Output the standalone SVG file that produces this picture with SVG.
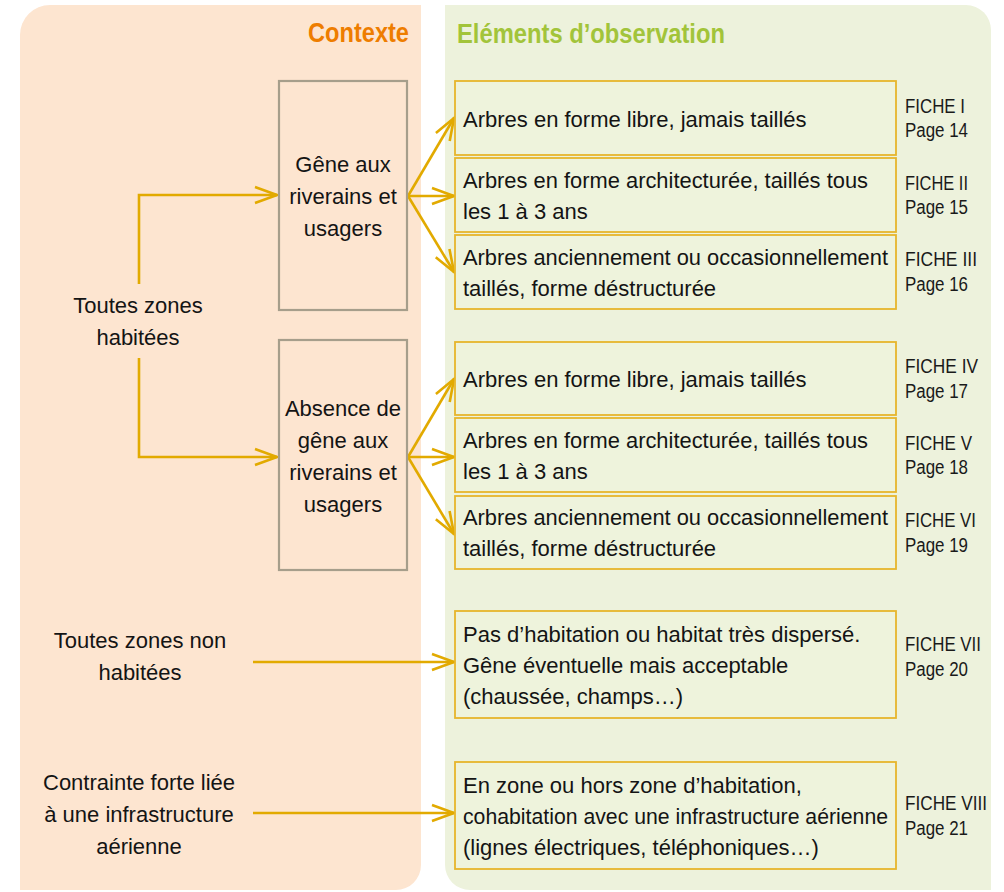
<svg xmlns="http://www.w3.org/2000/svg" width="1004" height="892" viewBox="0 0 1004 892">
<style>
.t{font-family:"Liberation Sans",Arial,sans-serif;font-size:22px;fill:#141414}
.c{text-anchor:middle}
.f{font-family:"Liberation Sans Narrow","Liberation Sans",Arial,sans-serif;font-size:20px;fill:#1a1a1a}
.h{font-family:"Liberation Sans Narrow","Liberation Sans",Arial,sans-serif;font-size:28px;font-weight:bold}
.gb{fill:#FDE5D0;stroke:#A69E8B;stroke-width:2.2}
.ob{fill:#EEF3DC;stroke:#E6B52C;stroke-width:1.8}
.cn{fill:none;stroke:#E2AA00;stroke-width:2.6;marker-end:url(#ah)}
</style>
<defs>
<marker id="ah" markerUnits="userSpaceOnUse" markerWidth="30" markerHeight="22" viewBox="-26 -11 28 22" refX="0" refY="0" orient="auto" overflow="visible">
<path d="M-22,-8 L0,0 L-22,8" fill="none" stroke="#E2AA00" stroke-width="2.6"/>
</marker>
</defs>
<g id="panels">
<path d="M20,35 A30,30 0 0 1 50,5 L421,5 L421,865 A25,25 0 0 1 396,890 L20,890 Z" fill="#FDE5D0"/>
<path d="M445,5 L966,5 A25,25 0 0 1 991,30 L991,890 L470,890 A25,25 0 0 1 445,865 Z" fill="#EDF2DC"/>
<text class="h" x="409" y="42" text-anchor="end" fill="#EE7D00" textLength="101" lengthAdjust="spacingAndGlyphs">Contexte</text>
<text class="h" x="457" y="43" fill="#A2C43A" textLength="268" lengthAdjust="spacingAndGlyphs">Eléments d’observation</text>
</g>
<g id="connectors">
<path class="cn" d="M139,284 V195 H277"/>
<path class="cn" d="M139,358 V457 H277"/>
<path class="cn" d="M408,196 L454,118"/>
<path class="cn" d="M408,196 L454,196"/>
<path class="cn" d="M408,196 L454,272"/>
<path class="cn" d="M408,457 L454,379"/>
<path class="cn" d="M408,457 L454,457"/>
<path class="cn" d="M408,457 L454,534"/>
<path class="cn" d="M253,662 L454,662"/>
<path class="cn" d="M253,813 L454,813"/>
</g>
<g id="n-habitees">
<text class="t c" x="138" y="313">Toutes zones</text>
<text class="t c" x="138" y="345">habitées</text>
</g>
<g id="n-gene">
<rect class="gb" x="279" y="81" width="128" height="229"/>
<text class="t c" x="343" y="172">Gêne aux</text>
<text class="t c" x="343" y="204">riverains et</text>
<text class="t c" x="343" y="236">usagers</text>
</g>
<g id="n-absence">
<rect class="gb" x="279" y="340" width="128" height="230"/>
<text class="t c" x="343" y="416">Absence de</text>
<text class="t c" x="343" y="448">gêne aux</text>
<text class="t c" x="343" y="480">riverains et</text>
<text class="t c" x="343" y="512">usagers</text>
</g>
<g id="n-nonhabitees">
<text class="t c" x="140" y="648">Toutes zones non</text>
<text class="t c" x="140" y="680">habitées</text>
</g>
<g id="n-contrainte">
<text class="t c" x="139" y="790">Contrainte forte liée</text>
<text class="t c" x="139" y="822">à une infrastructure</text>
<text class="t c" x="139" y="854">aérienne</text>
</g>
<g id="fiche1">
<rect class="ob" x="455" y="81" width="441" height="74"/>
<text class="t" x="463" y="127">Arbres en forme libre, jamais taillés</text>
<text class="f" x="905" y="113" textLength="60" lengthAdjust="spacingAndGlyphs">FICHE I</text>
<text class="f" x="905" y="137" textLength="63" lengthAdjust="spacingAndGlyphs">Page 14</text>
</g>
<g id="fiche2">
<rect class="ob" x="455" y="158" width="441" height="74"/>
<text class="t" x="463" y="188" textLength="405" lengthAdjust="spacingAndGlyphs">Arbres en forme architecturée, taillés tous</text>
<text class="t" x="463" y="219">les 1 à 3 ans</text>
<text class="f" x="905" y="190" textLength="63" lengthAdjust="spacingAndGlyphs">FICHE II</text>
<text class="f" x="905" y="214" textLength="63" lengthAdjust="spacingAndGlyphs">Page 15</text>
</g>
<g id="fiche3">
<rect class="ob" x="455" y="235" width="441" height="74"/>
<text class="t" x="463" y="265" textLength="425" lengthAdjust="spacingAndGlyphs">Arbres anciennement ou occasionnellement</text>
<text class="t" x="463" y="296">taillés, forme déstructurée</text>
<text class="f" x="905" y="266" textLength="72" lengthAdjust="spacingAndGlyphs">FICHE III</text>
<text class="f" x="905" y="291" textLength="63" lengthAdjust="spacingAndGlyphs">Page 16</text>
</g>
<g id="fiche4">
<rect class="ob" x="455" y="342" width="441" height="73"/>
<text class="t" x="463" y="387">Arbres en forme libre, jamais taillés</text>
<text class="f" x="905" y="373" textLength="73" lengthAdjust="spacingAndGlyphs">FICHE IV</text>
<text class="f" x="905" y="398" textLength="63" lengthAdjust="spacingAndGlyphs">Page 17</text>
</g>
<g id="fiche5">
<rect class="ob" x="455" y="418" width="441" height="74"/>
<text class="t" x="463" y="448" textLength="405" lengthAdjust="spacingAndGlyphs">Arbres en forme architecturée, taillés tous</text>
<text class="t" x="463" y="479">les 1 à 3 ans</text>
<text class="f" x="905" y="450" textLength="67" lengthAdjust="spacingAndGlyphs">FICHE V</text>
<text class="f" x="905" y="474" textLength="63" lengthAdjust="spacingAndGlyphs">Page 18</text>
</g>
<g id="fiche6">
<rect class="ob" x="455" y="496" width="441" height="73"/>
<text class="t" x="463" y="525" textLength="425" lengthAdjust="spacingAndGlyphs">Arbres anciennement ou occasionnellement</text>
<text class="t" x="463" y="556">taillés, forme déstructurée</text>
<text class="f" x="905" y="527" textLength="71" lengthAdjust="spacingAndGlyphs">FICHE VI</text>
<text class="f" x="905" y="552" textLength="63" lengthAdjust="spacingAndGlyphs">Page 19</text>
</g>
<g id="fiche7">
<rect class="ob" x="455" y="611" width="441" height="107"/>
<text class="t" x="463" y="642">Pas d’habitation ou habitat très dispersé.</text>
<text class="t" x="463" y="673">Gêne éventuelle mais acceptable</text>
<text class="t" x="463" y="704">(chaussée, champs…)</text>
<text class="f" x="905" y="651" textLength="76" lengthAdjust="spacingAndGlyphs">FICHE VII</text>
<text class="f" x="905" y="676" textLength="63" lengthAdjust="spacingAndGlyphs">Page 20</text>
</g>
<g id="fiche8">
<rect class="ob" x="455" y="762" width="441" height="107"/>
<text class="t" x="463" y="793">En zone ou hors zone d’habitation,</text>
<text class="t" x="463" y="824" textLength="425" lengthAdjust="spacingAndGlyphs">cohabitation avec une infrastructure aérienne</text>
<text class="t" x="463" y="855">(lignes électriques, téléphoniques…)</text>
<text class="f" x="905" y="810" textLength="82" lengthAdjust="spacingAndGlyphs">FICHE VIII</text>
<text class="f" x="905" y="835" textLength="63" lengthAdjust="spacingAndGlyphs">Page 21</text>
</g>
</svg>
